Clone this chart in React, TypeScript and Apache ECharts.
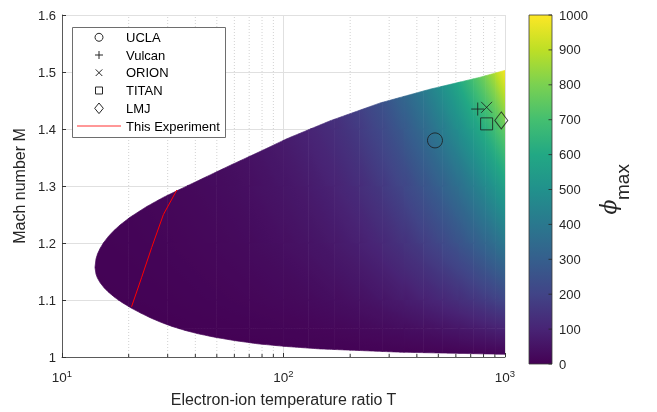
import React, { useEffect, useRef } from "react";
import * as echarts from "echarts";

// ---- Region where solutions exist ----
const upperT = [14.09, 14.24, 14.46, 14.85, 15.37, 16.13, 17.04, 18.27, 20.28, 24.13, 28.66, 32.95, 57.4, 78.3, 103.7, 162.2, 272.8, 458.6, 771, 1000];
const upperM = [1.1572, 1.1721, 1.1806, 1.1904, 1.1999, 1.2107, 1.2207, 1.2315, 1.2451, 1.264, 1.28, 1.2914, 1.3361, 1.3604, 1.383, 1.4143, 1.4456, 1.4698, 1.4907, 1.5029];
const lowerT = [14.09, 14.24, 14.46, 14.85, 15.48, 16.13, 17.35, 18.66, 20.49, 22.74, 25.22, 27.99, 31.37, 35.92, 41.11, 49.07, 60.39, 76.72, 101.6, 146.1, 335.7, 1000];
const lowerM = [1.1572, 1.1454, 1.1384, 1.1306, 1.1216, 1.1145, 1.1042, 1.0957, 1.0861, 1.0768, 1.0683, 1.0608, 1.0537, 1.0467, 1.0408, 1.0346, 1.0287, 1.0231, 1.0186, 1.0142, 1.0085, 1.0047];

const phiT = [14, 20, 30, 50, 70, 100, 130, 170, 220, 280, 350, 430, 520, 620, 720, 820, 910, 1000];
const phiM = [1.0, 1.05, 1.1, 1.2, 1.3, 1.4, 1.5];
const phiAtM100 = [0, 0, 0, 0, 0, 0, 0, 0, 0, 0, 0, 0, 0, 0, 0, 0, 0, 0];
const phiAtM105 = [1, 2, 3, 5, 7, 10, 13, 17, 22, 28, 35, 43, 52, 62, 72, 82, 91, 100];
const phiAtM110 = [3, 4, 6, 11, 15, 21, 27, 36, 46, 59, 76, 93, 112, 133, 153, 173, 191, 210];
const phiAtM120 = [6, 8, 12, 20, 28, 40, 52, 68, 88, 114, 145, 180, 217, 256, 294, 331, 365, 400];
const phiAtM130 = [8, 11, 17, 29, 40, 57, 74, 97, 127, 165, 210, 260, 310, 365, 420, 472, 521, 570];
const phiAtM140 = [11, 15, 23, 38, 53, 76, 99, 130, 170, 220, 280, 345, 415, 490, 560, 630, 695, 760];
const phiAtM150 = [14, 20, 29, 49, 69, 98, 127, 168, 220, 282, 360, 440, 530, 625, 720, 812, 896, 990];
const phiRows = [phiAtM100, phiAtM105, phiAtM110, phiAtM120, phiAtM130, phiAtM140, phiAtM150];

// ---- "This Experiment" curve ----
const experimentT = [20.6, 22.9, 25.4, 28.7, 33.0];
const experimentM = [1.088, 1.14, 1.192, 1.25, 1.293];

// ---- Facilities ----
const facilityNames = ["UCLA", "Vulcan", "ORION", "TITAN", "LMJ"];
const facilityT = [483, 753, 826, 826, 962];
const facilityM = [1.38, 1.435, 1.438, 1.409, 1.415];

// ---- Axis ticks ----
const xMinorTicks = [20, 30, 40, 50, 60, 70, 80, 90, 200, 300, 400, 500, 600, 700, 800, 900];
const colorbarTicks = [0, 100, 200, 300, 400, 500, 600, 700, 800, 900, 1000];
const colorMin = 0;
const colorMax = 1000;

const VIRIDIS = ["#440154", "#482475", "#414487", "#355f8d", "#2a788e", "#21918c", "#22a884", "#44bf70", "#7ad151", "#bddf26", "#fde725"];
const VRGB = VIRIDIS.map((h) => [parseInt(h.slice(1, 3), 16), parseInt(h.slice(3, 5), 16), parseInt(h.slice(5, 7), 16)]);

function viridis(v: number): string {
  const t = Math.max(0, Math.min(1, (v - colorMin) / (colorMax - colorMin))) * (VRGB.length - 1);
  const k = Math.min(VRGB.length - 2, Math.floor(t));
  const f = t - k;
  const a = VRGB[k], b = VRGB[k + 1];
  return `rgb(${Math.round(a[0] + (b[0] - a[0]) * f)},${Math.round(a[1] + (b[1] - a[1]) * f)},${Math.round(a[2] + (b[2] - a[2]) * f)})`;
}

function interpLogT(Ts: number[], Ms: number[], T: number): number {
  const n = Ts.length;
  if (T <= Ts[0]) return Ms[0];
  if (T >= Ts[n - 1]) return Ms[n - 1];
  for (let k = 0; k < n - 1; k++) {
    if (T <= Ts[k + 1]) {
      const f = (Math.log10(T) - Math.log10(Ts[k])) / (Math.log10(Ts[k + 1]) - Math.log10(Ts[k]));
      return Ms[k] + (Ms[k + 1] - Ms[k]) * f;
    }
  }
  return Ms[n - 1];
}
const U = (t: number) => interpLogT(upperT, upperM, t);
const L = (t: number) => interpLogT(lowerT, lowerM, t);

const FONT = '"Liberation Sans", Arial, Helvetica, sans-serif';
const TXT = "#262626";

export default function App() {
  const ref = useRef<HTMLDivElement>(null);
  useEffect(() => {
    if (!ref.current) return;
    const chart = echarts.init(ref.current, undefined, { renderer: "svg" });

    const cells: number[][] = [];
    for (let i = 0; i < phiT.length - 1; i++) {
      for (let j = 0; j < phiM.length - 1; j++) cells.push([phiT[i], phiM[j], i, j]);
    }

    const renderCell = (params: any, api: any) => {
      const i = api.value(2) as number;
      const j = api.value(3) as number;
      const Ta = Math.max(phiT[i], upperT[0]);
      const Tb = phiT[i + 1];
      if (Tb <= Ta) return null;
      const mLo = phiM[j];
      const mHi = j + 1 === phiM.length - 1 ? 1.6 : phiM[j + 1];
      const la = Math.log10(Ta), lb = Math.log10(Tb);
      let ts: number[] = [];
      const N = 16;
      for (let k = 0; k <= N; k++) ts.push(Math.pow(10, la + ((lb - la) * k) / N));
      [...upperT, ...lowerT].forEach((t) => {
        if (t > Ta && t < Tb) ts.push(t);
      });
      ts.sort((a, b) => a - b);
      const fns = [(t: number) => U(t) - mLo, (t: number) => U(t) - mHi, (t: number) => L(t) - mLo, (t: number) => L(t) - mHi];
      const extra: number[] = [];
      for (let k = 0; k < ts.length - 1; k++) {
        const a = ts[k], b = ts[k + 1];
        for (const f of fns) {
          const fa = f(a), fb = f(b);
          if (fa * fb < 0) {
            let lo = Math.log10(a), hi = Math.log10(b), flo = fa;
            for (let it = 0; it < 40; it++) {
              const mid = (lo + hi) / 2;
              const fm = f(Math.pow(10, mid));
              if (fm < 0 === flo < 0) {
                lo = mid;
                flo = fm;
              } else hi = mid;
            }
            extra.push(Math.pow(10, (lo + hi) / 2));
          }
        }
      }
      ts = ts.concat(extra).sort((a, b) => a - b);
      const top: number[][] = [];
      const bot: number[][] = [];
      for (const t of ts) {
        const u = Math.min(U(t), mHi);
        const l = Math.max(L(t), mLo);
        if (u >= l - 1e-6) {
          top.push(api.coord([t, Math.max(u, l)]));
          bot.push(api.coord([t, l]));
        }
      }
      if (top.length < 2) return null;
      const points = top.concat(bot.reverse());

      const pA = api.coord([phiT[i], phiM[j]]);
      const pB = api.coord([phiT[i + 1], phiM[j + 1]]);
      const xa = pA[0], yb = pA[1], xb = pB[0], yt = pB[1];
      const r0 = phiRows[j], r1 = phiRows[j + 1];
      const v00 = r0[i], v10 = r0[i + 1], v01 = r1[i], v11 = r1[i + 1];
      const gx = (v10 - v00 + (v11 - v01)) / 2 / (xb - xa);
      const gy = (v00 - v01 + (v10 - v11)) / 2 / (yb - yt);
      const cx = (xa + xb) / 2, cy = (yt + yb) / 2;
      const vc = (v00 + v10 + v01 + v11) / 4;
      const mag = Math.hypot(gx, gy);
      let fill: any;
      if (mag < 1e-9) fill = viridis(vc);
      else {
        const ux = gx / mag, uy = gy / mag;
        const Lh = Math.hypot(xb - xa, yb - yt) / 2 + 30;
        const v0 = vc - mag * Lh, v1 = vc + mag * Lh;
        const K = 20;
        const stops = [];
        for (let k = 0; k <= K; k++) stops.push({ offset: k / K, color: viridis(v0 + ((v1 - v0) * k) / K) });
        fill = { type: "linear", x: cx - ux * Lh, y: cy - uy * Lh, x2: cx + ux * Lh, y2: cy + uy * Lh, colorStops: stops, global: true };
      }
      return { type: "polygon", shape: { points }, style: { fill, stroke: fill, lineWidth: 0.7 } };
    };

    const markerStyle = { color: "transparent", borderColor: "#1a1a1a", borderWidth: 1 };
    const symbols: any[] = ["circle", "path://M0,6.5H13M6.5,0V13", "path://M0,0L10,10M10,0L0,10", "rect", "diamond"];
    const sizes: any[] = [15, 13, 11, 12, [13, 17]];

    const option: any = {
      animation: false,
      grid: [
        { left: 62, top: 15, width: 443, height: 345.5 },
        { left: 529, top: 15, width: 23, height: 349 },
      ],
      xAxis: [
        {
          type: "log",
          logBase: 10,
          min: 10,
          max: 1000,
          gridIndex: 0,
          name: "Electron-ion temperature ratio T",
          nameLocation: "middle",
          nameGap: 34,
          nameTextStyle: { fontSize: 16, color: TXT, fontFamily: FONT },
          axisLine: { show: true, onZero: false, lineStyle: { color: "#5a5a5a", width: 1 } },
          axisTick: { inside: true, length: 4, lineStyle: { color: "#333" } },
          axisLabel: {
            margin: 11,
            formatter: (v: number) => `{b|10}{s|${Math.round(Math.log10(v))}}`,
            rich: {
              b: { fontSize: 13.5, color: TXT, fontFamily: FONT },
              s: { fontSize: 9.5, color: TXT, fontFamily: FONT, padding: [0, 0, 9, 0] },
            },
          },
          splitLine: { show: true, lineStyle: { color: "#e0e0e0", width: 1 } },
        },
        { type: "value", gridIndex: 1, min: 0, max: 1, show: false },
      ],
      yAxis: [
        {
          type: "value",
          min: 1,
          max: 1.6,
          interval: 0.1,
          gridIndex: 0,
          name: "Mach number M",
          nameLocation: "middle",
          nameGap: 32,
          nameRotate: 90,
          nameTextStyle: { fontSize: 16, color: TXT, fontFamily: FONT },
          axisLine: { show: true, onZero: false, lineStyle: { color: "#5a5a5a", width: 1 } },
          axisTick: { inside: true, length: 4, lineStyle: { color: "#333" } },
          axisLabel: {
            margin: 6,
            fontSize: 13,
            color: TXT,
            fontFamily: FONT,
            formatter: (v: number) => String(Math.round(v * 10) / 10),
          },
          splitLine: { show: true, lineStyle: { color: "#e0e0e0", width: 1 } },
        },
        {
          type: "value",
          gridIndex: 1,
          min: 0,
          max: 1000,
          interval: 100,
          position: "right",
          axisLine: { show: false },
          axisTick: { show: false },
          splitLine: { show: false },
          axisLabel: { margin: 7, fontSize: 13, color: TXT, fontFamily: FONT, formatter: (v: number) => String(v) },
        },
      ],
      series: [
        {
          type: "custom",
          name: "minorGrid",
          xAxisIndex: 0,
          yAxisIndex: 0,
          z: 1,
          silent: true,
          data: xMinorTicks.map((t) => [t, 1]),
          renderItem: (params: any, api: any) => {
            const a = api.coord([api.value(0), 1]);
            const b = api.coord([api.value(0), 1.6]);
            return { type: "line", shape: { x1: a[0], y1: a[1], x2: b[0], y2: b[1] }, style: { stroke: "#d2d2d2", lineWidth: 1, lineDash: [1, 2] } };
          },
        },
        {
          type: "custom",
          name: "phiField",
          xAxisIndex: 0,
          yAxisIndex: 0,
          z: 2,
          silent: true,
          clip: true,
          data: cells,
          renderItem: renderCell,
        },
        {
          type: "custom",
          name: "minorTicks",
          xAxisIndex: 0,
          yAxisIndex: 0,
          z: 5,
          silent: true,
          data: xMinorTicks.map((t) => [t, 1]),
          renderItem: (params: any, api: any) => {
            const a = api.coord([api.value(0), 1]);
            return { type: "line", shape: { x1: a[0], y1: a[1], x2: a[0], y2: a[1] - 3 }, style: { stroke: "#333", lineWidth: 1 } };
          },
        },
        {
          type: "line",
          name: "This Experiment",
          xAxisIndex: 0,
          yAxisIndex: 0,
          z: 4,
          silent: true,
          symbol: "none",
          data: experimentT.map((t, k) => [t, experimentM[k]]),
          lineStyle: { color: "#ff0000", width: 1 },
        },
        ...facilityNames.map((name, k) => ({
          type: "scatter",
          name,
          xAxisIndex: 0,
          yAxisIndex: 0,
          z: 4,
          silent: true,
          symbol: symbols[k],
          symbolSize: sizes[k],
          symbolKeepAspect: true,
          itemStyle: markerStyle,
          data: [[facilityT[k], facilityM[k]]],
        })),
        {
          type: "custom",
          name: "colorbar",
          xAxisIndex: 1,
          yAxisIndex: 1,
          silent: true,
          data: [[0.5, 500]],
          renderItem: (params: any, api: any) => {
            const p0 = api.coord([0, colorMin]);
            const p1 = api.coord([1, colorMax]);
            const x = p0[0], y = p1[1], w = p1[0] - p0[0], h = p0[1] - p1[1];
            const children: any[] = [
              {
                type: "rect",
                shape: { x, y, width: w, height: h },
                style: {
                  fill: { type: "linear", x: 0, y: 1, x2: 0, y2: 0, colorStops: VIRIDIS.map((c, k) => ({ offset: k / (VIRIDIS.length - 1), color: c })) },
                  stroke: "#3a3a3a",
                  lineWidth: 0.8,
                },
              },
            ];
            colorbarTicks.forEach((v) => {
              const yy = api.coord([0, v])[1];
              children.push({ type: "line", shape: { x1: x + w - 3.5, y1: yy, x2: x + w, y2: yy }, style: { stroke: "#262626", lineWidth: 0.8 } });
            });
            return { type: "group", children };
          },
        },
      ],
      graphic: [
        { type: "rect", z: 100, shape: { x: 72.5, y: 27.5, width: 153, height: 110 }, style: { fill: "#fff", stroke: "#6e6e6e", lineWidth: 1 } },
        { type: "circle", z: 101, shape: { cx: 99, cy: 37.3, r: 4 }, style: { fill: "none", stroke: "#262626", lineWidth: 1 } },
        { type: "line", z: 101, shape: { x1: 95, y1: 55, x2: 103, y2: 55 }, style: { stroke: "#262626", lineWidth: 1 } },
        { type: "line", z: 101, shape: { x1: 99, y1: 51, x2: 99, y2: 59 }, style: { stroke: "#262626", lineWidth: 1 } },
        { type: "line", z: 101, shape: { x1: 95.7, y1: 69.4, x2: 102.3, y2: 76 }, style: { stroke: "#262626", lineWidth: 1 } },
        { type: "line", z: 101, shape: { x1: 95.7, y1: 76, x2: 102.3, y2: 69.4 }, style: { stroke: "#262626", lineWidth: 1 } },
        { type: "rect", z: 101, shape: { x: 95.5, y: 87, width: 7, height: 7 }, style: { fill: "none", stroke: "#262626", lineWidth: 1 } },
        { type: "polygon", z: 101, shape: { points: [[99, 103], [103.3, 108.3], [99, 113.6], [94.7, 108.3]] }, style: { fill: "none", stroke: "#262626", lineWidth: 1 } },
        { type: "line", z: 101, shape: { x1: 77, y1: 126, x2: 121, y2: 126 }, style: { stroke: "#ff3030", lineWidth: 1 } },
        ...[...facilityNames, "This Experiment"].map((t, k) => ({
          type: "text",
          z: 101,
          x: 126,
          y: [37.3, 55, 72.7, 90.5, 108.3, 126][k],
          style: { text: t, fill: "#000", fontSize: 13, fontFamily: FONT, align: "left", verticalAlign: "middle" },
        })),
        {
          type: "text",
          z: 101,
          x: 608,
          y: 207,
          rotation: Math.PI / 2,
          style: { text: "ϕ", fill: TXT, fontSize: 22, fontStyle: "italic", fontFamily: '"DejaVu Serif", "Liberation Serif", serif', align: "center", verticalAlign: "middle" },
        },
        {
          type: "text",
          z: 101,
          x: 622,
          y: 182,
          rotation: Math.PI / 2,
          style: { text: "max", fill: TXT, fontSize: 19, fontFamily: FONT, align: "center", verticalAlign: "middle" },
        },
      ],
    };
    chart.setOption(option);
    return () => chart.dispose();
  }, []);
  return <div ref={ref} style={{ position: "fixed", left: 0, top: 0, width: 657, height: 412 }} />;
}
